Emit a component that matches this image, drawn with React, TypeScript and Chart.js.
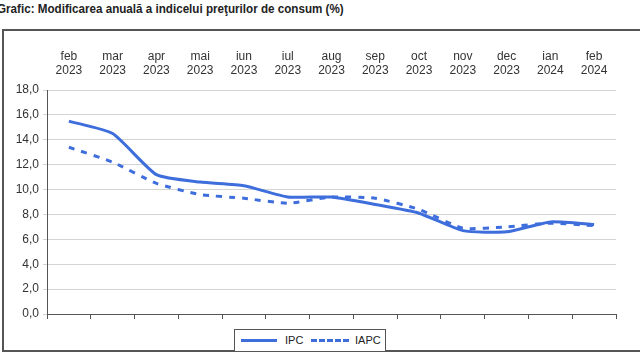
import React, { useEffect, useRef } from "react";
import { Chart, registerables } from "chart.js";

Chart.register(...registerables);

const months = ["feb", "mar", "apr", "mai", "iun", "iul", "aug", "sep", "oct", "nov", "dec", "ian", "feb"];
const years = ["2023", "2023", "2023", "2023", "2023", "2023", "2023", "2023", "2023", "2023", "2023", "2024", "2024"];
const ipc = [15.5, 14.5, 11.2, 10.6, 10.3, 9.4, 9.4, 8.8, 8.1, 6.7, 6.6, 7.4, 7.2];
const iapc = [13.4, 12.2, 10.5, 9.6, 9.3, 8.9, 9.4, 9.3, 8.4, 6.9, 7.0, 7.3, 7.1];
const yTicks = [0, 2, 4, 6, 8, 10, 12, 14, 16, 18];

const BLUE = "#3e6ddc";
const FONT = "'Liberation Sans', Arial, sans-serif";

export default function App() {
  const ref = useRef<HTMLCanvasElement | null>(null);

  useEffect(() => {
    if (!ref.current) return;
    const labels = months.map((m, i) => [m, years[i]]);
    const chart = new Chart(ref.current, {
      type: "line",
      data: {
        labels,
        datasets: [
          {
            label: "IPC",
            data: ipc,
            borderColor: BLUE,
            backgroundColor: BLUE,
            borderWidth: 3,
            pointRadius: 0,
            tension: 0.18,
            xAxisID: "x",
          },
          {
            label: "IAPC",
            data: iapc,
            borderColor: BLUE,
            backgroundColor: BLUE,
            borderWidth: 3,
            borderDash: [6, 7],
            pointRadius: 0,
            tension: 0.18,
            xAxisID: "x",
          },
        ],
      },
      options: {
        animation: false,
        responsive: false,
        maintainAspectRatio: false,
        layout: { padding: { left: 8, right: 24, top: 38, bottom: 41 } },
        plugins: { legend: { display: false }, tooltip: { enabled: false } },
        scales: {
          x: {
            type: "category",
            position: "top",
            offset: true,
            grid: { display: false, drawTicks: false },
            border: { display: false },
            ticks: {
              color: "#333",
              font: { family: FONT, size: 12 },
              padding: 12,
              maxRotation: 0,
              autoSkip: false,
            },
            afterFit: (s: any) => {
              s.height = 52;
            },
          },
          xb: {
            type: "category",
            position: "bottom",
            labels: months.map((m, i) => m + years[i]),
            offset: true,
            grid: { display: true, drawOnChartArea: false, drawTicks: true, tickLength: 5, color: "#555", offset: true },
            border: { display: true, color: "#555", width: 1 },
            ticks: { display: false },
            afterFit: (s: any) => {
              s.height = 5;
            },
          },
          y: {
            min: 0,
            max: 18,
            afterBuildTicks: (s: any) => {
              s.ticks = yTicks.map((v) => ({ value: v }));
            },
            grid: { color: "#d4d4d4", lineWidth: 1, tickLength: 4, drawTicks: true },
            border: { display: true, color: "#555", width: 1 },
            ticks: {
              color: "#333",
              font: { family: FONT, size: 12 },
              padding: 4,
              callback: (v: any) => Number(v).toFixed(1).replace(".", ","),
            },
            afterFit: (s: any) => {
              s.width = 39;
            },
          },
        },
      },
    });
    return () => chart.destroy();
  }, []);

  return (
    <div style={{ position: "fixed", left: 0, top: 0, width: 640, height: 360, overflow: "hidden", background: "#fff" }}>
      <div
        style={{
          position: "absolute",
          left: -3,
          top: 2,
          fontFamily: FONT,
          fontWeight: "bold",
          fontSize: 12,
          color: "#222",
          whiteSpace: "nowrap",
          transformOrigin: "left top",
          transform: "scaleX(0.97)",
        }}
      >
        Grafic: Modificarea anuală a indicelui preţurilor de consum (%)
      </div>
      <div
        style={{
          position: "absolute",
          left: 2,
          top: 29,
          width: 680,
          height: 323,
          border: "2px solid #555",
          boxSizing: "border-box",
        }}
      />
      <canvas ref={ref} width={640} height={360} style={{ position: "absolute", left: 0, top: 0 }} />
      <div
        style={{
          position: "absolute",
          left: 234,
          top: 329,
          width: 152,
          height: 23,
          border: "1px solid #555",
          boxSizing: "border-box",
          background: "#fff",
          fontFamily: FONT,
          fontSize: 11,
          color: "#222",
        }}
      >
        <div style={{ position: "absolute", left: 6, top: 9, width: 36, height: 0, borderTop: `3px solid ${BLUE}` }} />
        <div style={{ position: "absolute", left: 50, top: 4 }}>IPC</div>
        <div style={{ position: "absolute", left: 76, top: 9, width: 38, height: 0, borderTop: `3px dashed ${BLUE}` }} />
        <div style={{ position: "absolute", left: 120, top: 4 }}>IAPC</div>
      </div>
    </div>
  );
}
